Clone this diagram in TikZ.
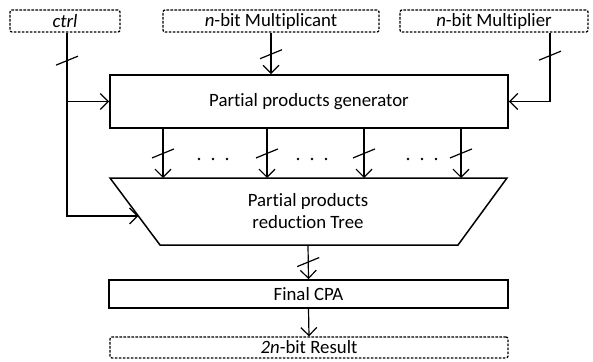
\documentclass[tikz,border=0pt]{standalone}
\usepackage{fontspec}
\setmainfont[Ligatures=NoCommon]{Carlito}
\usetikzlibrary{arrows.meta,calc}
\begin{document}
\begin{tikzpicture}[x=1pt,y=-1pt,
  font=\fontsize{18.8}{22.5}\selectfont,
  iobox/.style={draw,line width=1.3pt,dash pattern=on 2.6pt off 1.4pt,rounded corners=2pt,inner sep=0pt,minimum height=22pt},
  blockbox/.style={draw,line width=1.8pt,inner sep=0pt},
  conn/.style={line width=1.2pt,-{Straight Barb[length=8pt,width=16pt,line width=1.2pt]}},
  wire/.style={line width=1.2pt},
  dotmark/.style={circle,fill,inner sep=0pt,minimum size=2.6pt}
]
\useasboundingbox (0,0) rectangle (593,361);
% inputs
\node[iobox,minimum width=110pt] (ctrl) at (65,21) {\itshape ctrl};
\node[iobox,minimum width=216pt] (mcand) at (271,21) {\textit{n}-bit Multiplicant};
\node[iobox,minimum width=188pt] (mplier) at (494,21) {\textit{n}-bit Multiplier};
% generator
\node[blockbox,minimum width=398pt,minimum height=53pt] (gen) at (309,101.5) {Partial products generator};
% trapezoid
\coordinate (tl) at (110,178);
\coordinate (tr) at (507,178);
\coordinate (br) at (458,245);
\coordinate (bl) at (160,245);
\draw[line width=1.5pt,line join=miter] (tl) -- (tr) -- (br) -- (bl) -- cycle;
\node[align=center] (tree) at (308,211) {Partial products\\reduction Tree};
\coordinate (treebot) at (308,245);
% CPA and result
\node[blockbox,minimum width=399pt,minimum height=28pt] (cpa) at (308.5,294) {Final CPA};
\node[iobox,minimum width=398pt,minimum height=21pt] (res) at (309,347.5) {\textit{2n}-bit Result};
% column coordinates
\coordinate (c1) at (163,0);
\coordinate (c2) at (267,0);
\coordinate (c3) at (364,0);
\coordinate (c4) at (461,0);
\coordinate (cx) at (67,0);
\coordinate (mx) at (550,0);
\coordinate (ctrlin) at ($(tl)!0.567!(bl)$);
\coordinate (ctrlbend) at (cx |- ctrlin);
\coordinate (ctrlbranch) at (cx |- gen.west);
\coordinate (mbend) at (mx |- gen.east);
\coordinate (mcandin) at (mcand.south |- gen.north);
% ctrl connectors
\draw[wire] (ctrl.south -| cx) -- (ctrlbranch);
\draw[wire] (ctrl.south -| cx) ++(0,28) ++(-11,4.5) -- ++(22,-9);
\draw[conn] (ctrlbranch) -- (gen.west);
\draw[conn] (ctrlbranch) -- (ctrlbend) -- (ctrlin);
% multiplicand
\draw[conn] (mcand.south) -- (mcandin);
\draw[wire] ($(mcand.south)!0.52!(mcandin)$) ++(-11,4.5) -- ++(22,-9);
% multiplier
\draw[conn] (mplier.south -| mx) -- (mbend) -- (gen.east);
\draw[wire] (mplier.south -| mx) ++(0,23) ++(-11,4.5) -- ++(22,-9);
% generator to tree
\foreach \c in {c1,c2,c3,c4}{
  \draw[conn] (gen.south -| \c) -- (tl -| \c);
  \draw[wire] ($(gen.south -| \c)!0.5!(tl -| \c)$) ++(-11,4.5) -- ++(22,-9);
}
% dots
\foreach \x in {199,213,227, 298,312,326, 408,422,436}{
  \node[dotmark] (d\x) at (\x,159) {};
}
% tree to CPA
\draw[conn] (treebot) -- (cpa.north);
\draw[wire] ($(treebot)!0.5!(cpa.north)$) ++(-11,4.5) -- ++(22,-9);
\draw[conn] (cpa.south) -- (res.north);
\end{tikzpicture}
\end{document}
